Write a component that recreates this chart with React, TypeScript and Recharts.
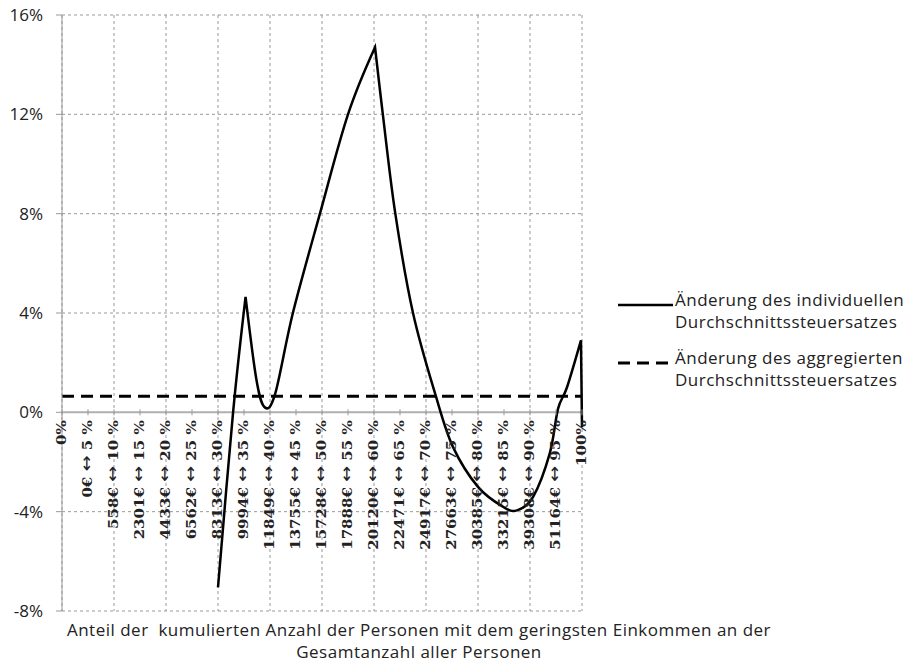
import { LineChart, Line, XAxis, YAxis, CartesianGrid, ReferenceLine, Legend } from 'recharts';

const CHART_W = 910;
const CHART_H = 664;
const X_AXIS_H = 30;
const MARGIN = { top: 15, right: 328, bottom: 53 - X_AXIS_H, left: 0 };
const Y_MIN = -8;
const Y_MAX = 16;
const PLOT_H = CHART_H - MARGIN.top - MARGIN.bottom - X_AXIS_H;
const ZERO_Y = MARGIN.top + (PLOT_H * Y_MAX) / (Y_MAX - Y_MIN);

// cumulative share of persons (%), x positions of the curve
const sharePct = [30, 32.9, 35.3, 37.4, 39.0, 41.0, 44.4, 49.6, 55.0, 60.2, 61.7, 64.1, 67.5, 71.9, 75.2, 80, 84.8, 87.5, 90.6, 93.8, 95.4, 97.1, 99.8, 100];
// change of the individual average tax rate (%)
const individualChange = [-7.05, 0, 4.65, 1.3, 0.2, 0.75, 4.0, 8.0, 12.0, 14.7, 12.0, 8.0, 4.0, 0.65, -1.4, -3.0, -3.8, -3.95, -3.4, -1.65, 0.15, 1.0, 2.9, -0.6];
// change of the aggregated average tax rate (%)
const aggregateShare = [0, 100];
const aggregateChange = [0.65, 0.65];

const seriesNames = [
  'Änderung des individuellen\nDurchschnittssteuersatzes',
  'Änderung des aggregierten\nDurchschnittssteuersatzes',
];

const shareTicks = [0, 5, 10, 15, 20, 25, 30, 35, 40, 45, 50, 55, 60, 65, 70, 75, 80, 85, 90, 95, 100];
const shareLabels = [
  '0%', '0€ ↔ 5 %', '558€ ↔ 10 %', '2301€ ↔ 15 %', '4433€ ↔ 20 %', '6562€ ↔ 25 %',
  '8313€ ↔ 30 %', '9994€ ↔ 35 %', '11849€ ↔ 40 %', '13755€ ↔ 45 %', '15728€ ↔ 50 %',
  '17888€ ↔ 55 %', '20120€ ↔ 60 %', '22471€ ↔ 65 %', '24917€ ↔ 70 %', '27663€ ↔ 75 %',
  '30385€ ↔ 80 %', '33215€ ↔ 85 %', '39308€ ↔ 90 %', '51164€ ↔ 95 %', '100%',
];
const gridTicks = [0, 10, 20, 30, 40, 50, 60, 70, 80, 90, 100];
const yTicks = [-8, -4, 0, 4, 8, 12, 16];

const individualData = sharePct.map((x, i) => ({ x, v: individualChange[i] }));
const aggregateData = aggregateShare.map((x, i) => ({ x, v: aggregateChange[i] }));

const FONT = '"Open Sans", sans-serif';

// Catmull-Rom style smoothing; the peaks are kept pointed like in the original
function smoothCurve(context: any) {
  let pts: number[][] = [];
  return {
    areaStart() {},
    areaEnd() {},
    lineStart() {
      pts = [];
    },
    point(x: number, y: number) {
      pts.push([+x, +y]);
    },
    lineEnd() {
      const n = pts.length;
      if (!n) return;
      const tan = pts.map((p, i) => {
        const prev = pts[i - 1] || p;
        const next = pts[i + 1] || p;
        // screen y grows downward: a peak is smaller than both neighbours
        if (i > 0 && i < n - 1 && p[1] < prev[1] && p[1] < next[1]) return [0, 0];
        return [(next[0] - prev[0]) / 6, (next[1] - prev[1]) / 6];
      });
      context.moveTo(pts[0][0], pts[0][1]);
      for (let i = 0; i < n - 1; i++) {
        const p1 = pts[i];
        const p2 = pts[i + 1];
        context.bezierCurveTo(
          p1[0] + tan[i][0],
          p1[1] + tan[i][1],
          p2[0] - tan[i + 1][0],
          p2[1] - tan[i + 1][1],
          p2[0],
          p2[1]
        );
      }
    },
  };
}

function ShareTick(props: any) {
  const { x, payload } = props;
  const label: string = shareLabels[shareTicks.indexOf(payload.value)] || '';
  const parts = label.split('↔');
  return (
    <g>
      <line x1={x} x2={x} y1={ZERO_Y - 3} y2={ZERO_Y + 3} stroke="#999" />
      <text
        transform={`translate(${x},${ZERO_Y + 8}) rotate(-90) scale(1.2,1)`}
        textAnchor="end"
        dy="0.35em"
        fontFamily="DejaVu Serif"
        fontWeight="bold"
        fontSize={12.5}
        fill="#222"
      >
        {parts[0]}
        {parts.length > 1 && (
          <tspan fontFamily="DejaVu Sans" fontWeight="normal" fontSize={16}>
            ↔
          </tspan>
        )}
        {parts.length > 1 && parts[1]}
      </text>
    </g>
  );
}

function SeriesLegend(props: any) {
  const entries = [...(props.payload || [])].sort(
    (a: any, b: any) => seriesNames.indexOf(a.value) - seriesNames.indexOf(b.value)
  );
  return (
    <div style={{ fontFamily: FONT, fontSize: 17, letterSpacing: 0.5, color: '#222' }}>
      {entries.map((entry: any, i: number) => (
        <div key={i} style={{ display: 'flex', alignItems: 'flex-start', marginBottom: 14 }}>
          <svg width={57} height={22} style={{ marginTop: 5, flex: 'none' }}>
            <line
              x1={0}
              x2={55}
              y1={11}
              y2={11}
              stroke="#000"
              strokeWidth={entry.payload?.strokeWidth || 2.5}
              strokeDasharray={entry.payload?.strokeDasharray}
            />
          </svg>
          <div style={{ whiteSpace: 'pre-line', lineHeight: '22px' }}>{entry.value}</div>
        </div>
      ))}
    </div>
  );
}

export default function App() {
  return (
    <div style={{ position: 'absolute', left: 0, top: 0, width: CHART_W, height: CHART_H, background: '#fff' }}>
      <LineChart width={CHART_W} height={CHART_H} margin={MARGIN}>
        <CartesianGrid stroke="#999" strokeDasharray="3 3" verticalValues={gridTicks} />
        <XAxis
          dataKey="x"
          type="number"
          domain={[0, 100]}
          ticks={shareTicks}
          interval={0}
          height={X_AXIS_H}
          axisLine={false}
          tickLine={false}
          tick={<ShareTick />}
        />
        <YAxis
          domain={[Y_MIN, Y_MAX]}
          ticks={yTicks}
          width={62}
          tickFormatter={(v) => `${v}%`}
          axisLine={{ stroke: '#999' }}
          tickLine={{ stroke: '#999' }}
          tickSize={6}
          tickMargin={13}
          tick={{ fontFamily: FONT, fontSize: 17, fill: '#222' }}
        />
        <ReferenceLine y={0} stroke="#b0b0b0" strokeWidth={2} />
        <Legend
          layout="horizontal"
          verticalAlign="middle"
          align="center"
          content={<SeriesLegend />}
          wrapperStyle={{ left: 618, top: 289, width: 292 }}
        />
        <Line
          data={individualData}
          dataKey="v"
          name={seriesNames[0]}
          type={smoothCurve as any}
          stroke="#000"
          strokeWidth={2.5}
          dot={false}
          isAnimationActive={false}
        />
        <Line
          data={aggregateData}
          dataKey="v"
          name={seriesNames[1]}
          type="linear"
          stroke="#000"
          strokeWidth={3}
          strokeDasharray="12 7"
          dot={false}
          isAnimationActive={false}
        />
      </LineChart>
      <div
        style={{
          position: 'absolute',
          left: 0,
          top: 619,
          width: 838,
          textAlign: 'center',
          fontFamily: FONT,
          fontSize: 17,
          letterSpacing: 0.5,
          lineHeight: '22px',
          color: '#222',
        }}
      >
        Anteil der&nbsp; kumulierten Anzahl der Personen mit dem geringsten Einkommen an der
        <br />
        Gesamtanzahl aller Personen
      </div>
    </div>
  );
}
